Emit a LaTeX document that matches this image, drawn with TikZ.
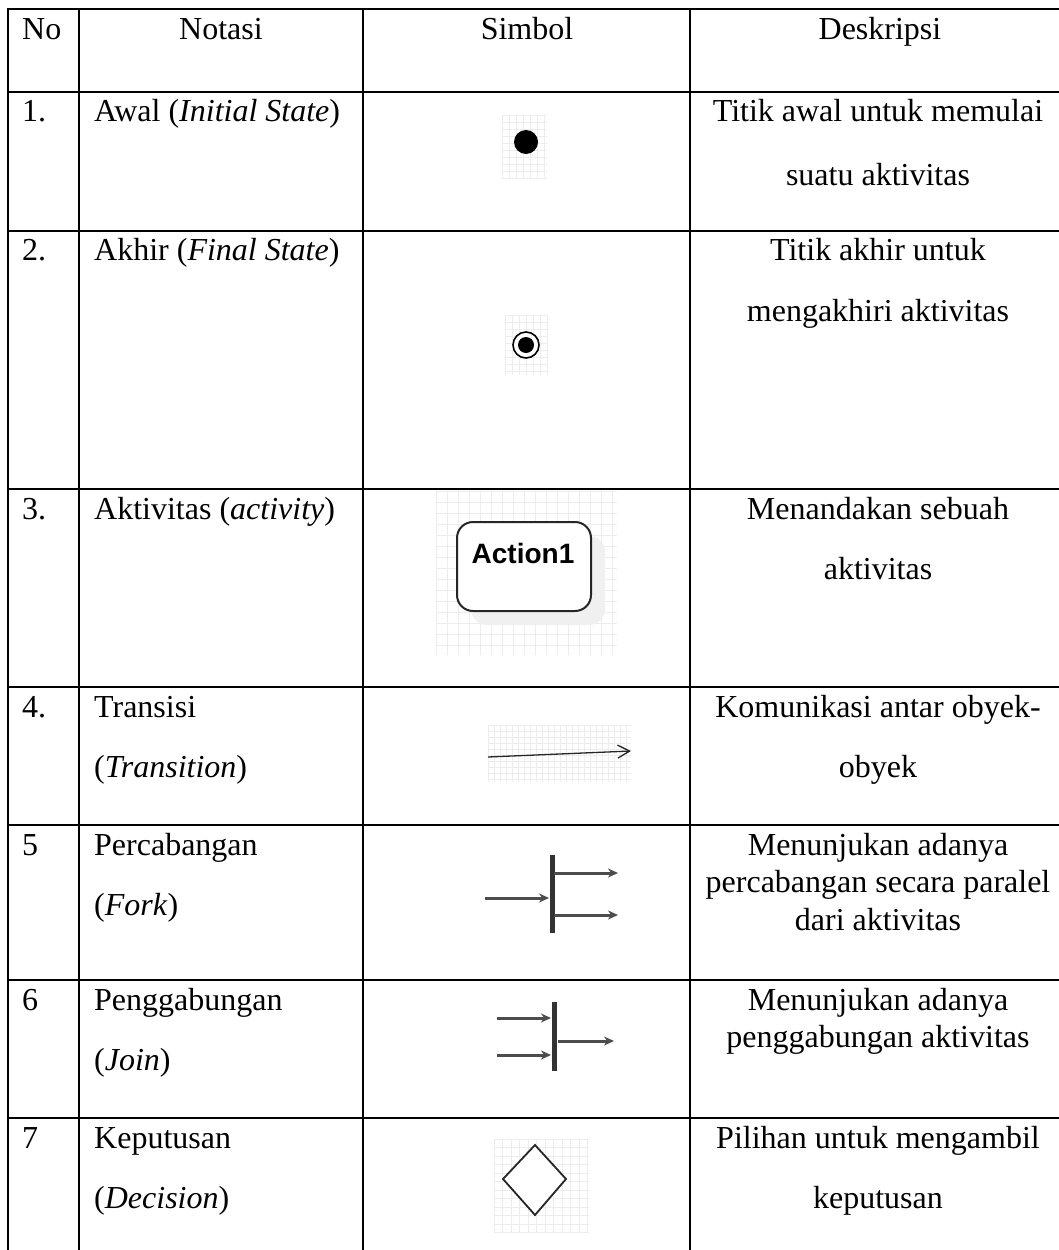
\documentclass[tikz,border=0pt]{standalone}
\usepackage{fontspec}
\setmainfont{Liberation Serif}
\newfontfamily\actionfont{Liberation Sans}
\usetikzlibrary{arrows.meta}

\begin{document}
\begin{tikzpicture}[x=1pt,y=-1pt,
  rule/.style={line width=2.6pt, line cap=rect},
  txt/.style={inner sep=0pt, anchor=base, font=\fontsize{32}{37}\selectfont},
  ltxt/.style={txt, anchor=base west},
  faintgrid/.style={draw=black!7, line width=0.8pt},
  flow/.style={draw=black!70, line width=3pt, -{Stealth[length=10pt,width=9pt]}},
  forkbar/.style={draw=black!80, line width=5pt},
]
\useasboundingbox (0,0) rectangle (1059,1250);

% ---- table rules ----
\foreach \ry in {9,92,231,489,687,825,980,1118}
  \draw[rule] (8,\ry) -- (1062,\ry);
\foreach \cx in {8,79,363,690}
  \draw[rule] (\cx,9) -- (\cx,1255);

% ---- header ----
\node[ltxt] (hno)  at (22,39)  {No};
\node[txt]  (hnot) at (221,39) {Notasi};
\node[txt]  (hsym) at (527,39) {Simbol};
\node[txt]  (hdes) at (880,39) {Deskripsi};

% ---- column "No" ----
\node[ltxt] (n1) at (22,121)  {1.};
\node[ltxt] (n2) at (22,260)  {2.};
\node[ltxt] (n3) at (22,519)  {3.};
\node[ltxt] (n4) at (22,717)  {4.};
\node[ltxt] (n5) at (22,855)  {5};
\node[ltxt] (n6) at (22,1010) {6};
\node[ltxt] (n7) at (22,1148) {7};

% ---- column "Notasi" ----
\node[ltxt] (t1)  at (94,121)  {Awal (\textit{Initial State})};
\node[ltxt] (t2)  at (94,260)  {Akhir (\textit{Final State})};
\node[ltxt] (t3)  at (94,519)  {Aktivitas (\textit{activity})};
\node[ltxt] (t4a) at (94,717)  {Transisi};
\node[ltxt] (t4b) at (94,777)  {(\textit{Transition})};
\node[ltxt] (t5a) at (94,855)  {Percabangan};
\node[ltxt] (t5b) at (94,915)  {(\textit{Fork})};
\node[ltxt] (t6a) at (94,1010) {Penggabungan};
\node[ltxt] (t6b) at (94,1070) {(\textit{Join})};
\node[ltxt] (t7a) at (94,1148) {Keputusan};
\node[ltxt] (t7b) at (94,1208) {(\textit{Decision})};

% ---- column "Deskripsi" ----
\node[txt] (d1a) at (878,121)    {Titik awal untuk memulai};
\node[txt] (d1b) at (878,185)    {suatu aktivitas};
\node[txt] (d2a) at (878,260)    {Titik akhir untuk};
\node[txt] (d2b) at (878,321)    {mengakhiri aktivitas};
\node[txt] (d3a) at (878,519)    {Menandakan sebuah};
\node[txt] (d3b) at (878,579)    {aktivitas};
\node[txt] (d4a) at (878,717)    {Komunikasi antar obyek-};
\node[txt] (d4b) at (878,777)    {obyek};
\node[txt] (d5a) at (878,855)    {Menunjukan adanya};
\node[txt] (d5b) at (878,892.5)  {percabangan secara paralel};
\node[txt] (d5c) at (878,930)    {dari aktivitas};
\node[txt] (d6a) at (878,1010)   {Menunjukan adanya};
\node[txt] (d6b) at (878,1047.5) {penggabungan aktivitas};
\node[txt] (d7a) at (878,1148)   {Pilihan untuk mengambil};
\node[txt] (d7b) at (878,1208)   {keputusan};

% ---- symbol: initial state ----
\foreach \gx in {502,509,...,547} \draw[faintgrid] (\gx,115) -- (\gx,178);
\foreach \gy in {115,122,...,178} \draw[faintgrid] (502,\gy) -- (547,\gy);
\fill[black] (526,142) circle[radius=12] node (init) {};

% ---- symbol: final state ----
\foreach \gx in {505,512,...,548} \draw[faintgrid] (\gx,315) -- (\gx,375);
\foreach \gy in {315,322,...,375} \draw[faintgrid] (505,\gy) -- (548,\gy);
\fill[white] (526,345) circle[radius=14];
\draw[black, line width=1.6pt] (526,345) circle[radius=13];
\fill[black] (526,345) circle[radius=8] node (final) {};

% ---- symbol: activity ----
\foreach \gx in {436,447,...,617} \draw[faintgrid] (\gx,491) -- (\gx,655);
\foreach \gy in {491,502,...,655} \draw[faintgrid] (436,\gy) -- (617,\gy);
\fill[black!6, rounded corners=16] (471,536) rectangle (605,625);
\draw[black!85, fill=white, line width=2pt, rounded corners=16] (457,522) rectangle (591,611);
\node[inner sep=0pt, anchor=base, font=\actionfont\bfseries\fontsize{28}{30}\selectfont]
  (act) at (523,563) {Action1};

% ---- symbol: transition ----
\foreach \gx in {488,494,...,631} \draw[faintgrid] (\gx,725) -- (\gx,782);
\foreach \gy in {725,731,...,782} \draw[faintgrid] (488,\gy) -- (631,\gy);
\coordinate (trA) at (488,757);
\coordinate (trB) at (631,751);
\draw[black!85, line width=1.3pt, -{Straight Barb[length=12pt,width=13pt,line width=1.3pt]}] (trA) -- (trB);

% ---- symbol: fork ----
\coordinate (fkTop) at (552,855);
\coordinate (fkBot) at (552,933);
\draw[forkbar] (fkTop) -- (fkBot);
\coordinate (fkIn)  at (485,898);
\coordinate (fkInE) at (549,898);
\coordinate (fkO1s) at (554,873);
\coordinate (fkO1e) at (618,873);
\coordinate (fkO2s) at (554,915);
\coordinate (fkO2e) at (618,915);
\draw[flow] (fkIn) -- (fkInE);
\draw[flow] (fkO1s) -- (fkO1e);
\draw[flow] (fkO2s) -- (fkO2e);

% ---- symbol: join ----
\coordinate (jnTop) at (554,1002);
\coordinate (jnBot) at (554,1071);
\draw[forkbar] (jnTop) -- (jnBot);
\coordinate (jnI1s) at (497,1018);
\coordinate (jnI1e) at (551,1018);
\coordinate (jnI2s) at (497,1055);
\coordinate (jnI2e) at (551,1055);
\coordinate (jnOs)  at (558,1041);
\coordinate (jnOe)  at (614,1041);
\draw[flow] (jnI1s) -- (jnI1e);
\draw[flow] (jnI2s) -- (jnI2e);
\draw[flow] (jnOs) -- (jnOe);

% ---- symbol: decision ----
\foreach \gx in {494,502.5,...,589} \draw[faintgrid] (\gx,1139) -- (\gx,1233);
\foreach \gy in {1139,1147.5,...,1233} \draw[faintgrid] (494,\gy) -- (589,\gy);
\draw[black!85, fill=white, line width=1.8pt, line join=miter]
  (535,1145) -- (566,1179) -- (535,1215) -- (503,1179) -- cycle;
\coordinate (dec) at (535,1179);

\end{tikzpicture}
\end{document}
